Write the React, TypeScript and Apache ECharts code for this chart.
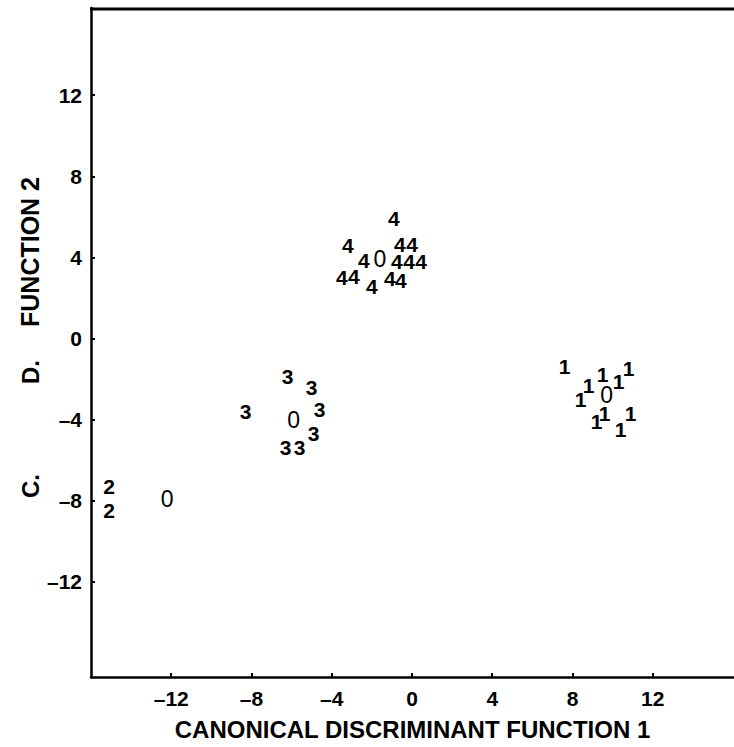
import React, { useEffect, useRef } from "react";
import * as echarts from "echarts";

// Tick values
const xTicks = [-12, -8, -4, 0, 4, 8, 12];
const yTicks = [-12, -8, -4, 0, 4, 8, 12];

// Group 1
const group1X = [7.6, 9.5, 10.8, 10.3, 8.8, 8.4, 9.6, 9.2, 10.9, 10.4];
const group1Y = [-1.4, -1.8, -1.5, -2.1, -2.3, -3.0, -3.7, -4.1, -3.7, -4.5];
// Group 2
const group2X = [-15.1, -15.1];
const group2Y = [-7.3, -8.5];
// Group 3
const group3X = [-8.3, -6.2, -5.0, -4.6, -4.9, -6.3, -5.6];
const group3Y = [-3.6, -1.9, -2.4, -3.5, -4.7, -5.4, -5.4];
// Group 4
const group4X = [-0.9, -3.2, -0.6, 0.0, -2.4, -0.75, -0.15, 0.45, -3.5, -2.9, -2.0, -1.1, -0.55];
const group4Y = [5.9, 4.6, 4.65, 4.65, 3.85, 3.8, 3.8, 3.8, 3.0, 3.05, 2.55, 2.95, 2.85];
// Group centroids
const centroidX = [-12.2, 9.7, -5.9, -1.6];
const centroidY = [-7.9, -2.8, -4.0, 3.9];

const FONT = "'Liberation Sans', Arial, sans-serif";

const fmtTick = (v: number) => (v < 0 ? "\u2013" + Math.abs(v) : String(v));

function pts(xs: number[], ys: number[]) {
  return xs.map((x, i) => [x, ys[i]]);
}

function digitSeries(name: string, xs: number[], ys: number[], digit: string, weight: string, size: number) {
  return {
    name,
    type: "scatter",
    data: pts(xs, ys),
    symbol: "circle",
    symbolSize: 1,
    itemStyle: { color: "#fff", opacity: 0 },
    silent: true,
    label: {
      show: true,
      position: "inside",
      formatter: digit,
      color: "#000",
      opacity: 1,
      textBorderWidth: 0,
      fontFamily: FONT,
      fontWeight: weight,
      fontSize: size,
    },
  };
}

export default function App() {
  const ref = useRef<HTMLDivElement>(null);
  useEffect(() => {
    if (!ref.current) return;
    const chart = echarts.init(ref.current, null, { renderer: "svg" });
    chart.setOption({
      animation: false,
      backgroundColor: "#fff",
      grid: { left: 91, right: 0, top: 8, bottom: 70, containLabel: false },
      xAxis: {
        type: "value",
        min: -16,
        max: 16.05,
        axisLine: { show: true, onZero: false, lineStyle: { color: "#000", width: 2.5 } },
        splitLine: { show: false },
        axisTick: { show: true, inside: true, length: 4, lineStyle: { width: 2, color: "#000" }, customValues: xTicks },
        axisLabel: {
          customValues: xTicks,
          formatter: fmtTick,
          color: "#000",
          fontFamily: FONT,
          fontWeight: "bold",
          fontSize: 21,
          margin: 11,
        },
        name: "CANONICAL DISCRIMINANT FUNCTION 1",
        nameLocation: "middle",
        nameGap: 40,
        nameTextStyle: { color: "#000", fontFamily: FONT, fontWeight: "bold", fontSize: 24 },
      },
      yAxis: {
        type: "value",
        position: "left",
        min: -16.7,
        max: 16.3,
        axisLine: { show: true, onZero: false, lineStyle: { color: "#000", width: 2.5 } },
        splitLine: { show: false },
        axisTick: { show: true, inside: true, length: 4, lineStyle: { width: 2, color: "#000" }, customValues: yTicks },
        axisLabel: {
          customValues: yTicks,
          formatter: fmtTick,
          color: "#000",
          fontFamily: FONT,
          fontWeight: "bold",
          fontSize: 21,
          margin: 9,
        },
      },
      graphic: [
        {
          type: "line",
          shape: { x1: 90, y1: 9, x2: 734, y2: 9 },
          style: { stroke: "#000", lineWidth: 3 },
        },
        {
          type: "text",
          x: 30,
          y: 486,
          rotation: Math.PI / 2,
          style: { text: "C.", font: `bold 24px ${FONT}`, fill: "#000", align: "center", verticalAlign: "middle" },
        },
        {
          type: "text",
          x: 30,
          y: 372,
          rotation: Math.PI / 2,
          style: { text: "D.", font: `bold 24px ${FONT}`, fill: "#000", align: "center", verticalAlign: "middle" },
        },
        {
          type: "text",
          x: 30,
          y: 252,
          rotation: Math.PI / 2,
          style: { text: "FUNCTION 2", font: `bold 25px ${FONT}`, fill: "#000", align: "center", verticalAlign: "middle" },
        },
      ],
      series: [
        digitSeries("1", group1X, group1Y, "1", "bold", 21),
        digitSeries("2", group2X, group2Y, "2", "bold", 21),
        digitSeries("3", group3X, group3Y, "3", "bold", 21),
        digitSeries("4", group4X, group4Y, "4", "bold", 21),
        digitSeries("0", centroidX, centroidY, "0", "normal", 23),
      ],
    });
    return () => chart.dispose();
  }, []);
  return <div ref={ref} style={{ position: "fixed", left: 0, top: 0, width: 734, height: 747 }} />;
}
